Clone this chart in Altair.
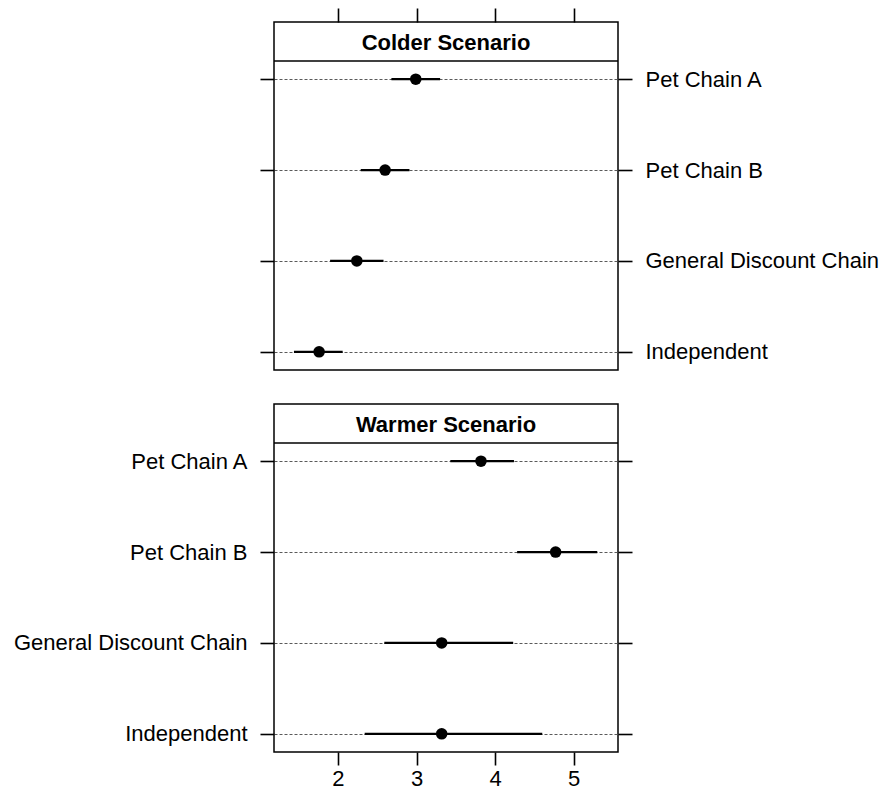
import altair as alt
import pandas as pd

categories = ["Pet Chain A", "Pet Chain B", "General Discount Chain", "Independent"]
scenarios = ["Colder Scenario", "Warmer Scenario"]

colder_est = [2.99, 2.60, 2.24, 1.76]
colder_lo = [2.68, 2.29, 1.90, 1.44]
colder_hi = [3.30, 2.91, 2.58, 2.06]

warmer_est = [3.82, 4.77, 3.32, 3.32]
warmer_lo = [3.43, 4.28, 2.59, 2.34]
warmer_hi = [4.24, 5.30, 4.23, 4.60]

x_ticks = [2, 3, 4, 5]
x_domain = [1.186, 5.564]

W = 344
STRIP_H = 39
PANEL_H = 309
H = STRIP_H + PANEL_H
FONT = "Liberation Sans"


def frame(scen, est, lo, hi):
    return pd.DataFrame({"scenario": scen, "category": categories,
                         "est": est, "lo": lo, "hi": hi})


df_c = frame(scenarios[0], colder_est, colder_lo, colder_hi)
df_w = frame(scenarios[1], warmer_est, warmer_lo, warmer_hi)

xscale = alt.Scale(domain=x_domain, nice=False, zero=False)
yscale = alt.Scale(type="point", padding=0.2, range=[STRIP_H, H])


def panel(df_s, title, top_panel):
    if top_panel:
        xax = alt.Axis(orient="top", values=x_ticks, labels=False, domain=False,
                       grid=False, tickSize=14, title=None)
    else:
        xax = alt.Axis(orient="bottom", values=x_ticks, domain=False, grid=False,
                       tickSize=13, labelPadding=3, title=None)
    labels_left = not top_panel
    left_ax = alt.Axis(orient="left", labels=labels_left, grid=True, gridColor="#5a5a5a",
                       gridDash=[3, 2], gridWidth=1, domain=False, tickSize=14,
                       labelPadding=13, labelLimit=0, title=None)
    right_ax = alt.Axis(orient="right", labels=not labels_left, grid=False, domain=False,
                        tickSize=14, labelPadding=13, labelLimit=0, title=None)
    rules = alt.Chart(df_s).mark_rule(color="black", strokeWidth=2.2).encode(
        x=alt.X("lo:Q", scale=xscale, axis=xax),
        x2="hi:Q",
        y=alt.Y("category:N", sort=categories, scale=yscale, axis=left_ax),
    )
    dots = alt.Chart(df_s).mark_circle(size=133, color="black", opacity=1).encode(
        x=alt.X("est:Q", scale=xscale, axis=xax),
        y=alt.Y("category:N", sort=categories, scale=yscale, axis=right_ax),
    )
    strip_line = alt.Chart(pd.DataFrame({"label": [title]})).mark_rule(
        color="black", strokeWidth=1.5
    ).encode(x=alt.value(0), x2=alt.value(W), y=alt.value(STRIP_H))
    strip_text = alt.Chart(pd.DataFrame({"label": [title]})).mark_text(
        fontWeight="bold", fontSize=22, color="black", font=FONT
    ).encode(x=alt.value(W / 2), y=alt.value(STRIP_H / 2 + 1), text="label:N")
    return alt.layer(rules, dots, strip_line, strip_text).resolve_axis(
        y="independent").properties(width=W, height=H)


chart = alt.vconcat(
    panel(df_c, scenarios[0], True),
    panel(df_w, scenarios[1], False),
    spacing=32,
).properties(
    padding={"left": 4, "top": -2, "right": 0, "bottom": 0}
).configure_view(
    stroke="black", strokeWidth=1.5
).configure_axis(
    labelFont=FONT, labelFontSize=22, labelColor="black", tickColor="black",
    tickWidth=1.6, domain=False
)

chart.save("out.html", embed_options={"renderer": "svg", "actions": False})
